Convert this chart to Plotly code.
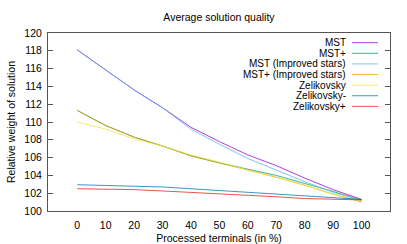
import plotly.graph_objects as go

processed = [0, 10, 20, 30, 40, 50, 60, 70, 80, 90, 100]

mst = [118.1, 115.8, 113.6, 111.6, 109.4, 107.8, 106.3, 105.1, 103.7, 102.4, 101.3]
mst_plus = [111.3, 109.6, 108.3, 107.3, 106.2, 105.4, 104.7, 104.0, 103.1, 102.2, 101.2]
mst_is = [118.1, 115.8, 113.6, 111.6, 109.2, 107.5, 105.9, 104.6, 103.3, 102.1, 101.2]
mst_plus_is = [111.3, 109.6, 108.3, 107.3, 106.2, 105.4, 104.6, 103.8, 102.9, 101.9, 101.0]
zel = [110.0, 109.2, 108.1, 107.3, 106.3, 105.5, 104.6, 103.8, 102.9, 101.9, 101.1]
zel_minus = [102.95, 102.85, 102.8, 102.7, 102.5, 102.3, 102.1, 101.9, 101.7, 101.5, 101.3]
zel_plus = [102.5, 102.45, 102.4, 102.25, 102.1, 101.9, 101.75, 101.6, 101.4, 101.3, 101.25]

names = ["MST", "MST+", "MST (Improved stars)", "MST+ (Improved stars)",
         "Zelikovsky", "Zelikovsky-", "Zelikovsky+"]
series = [mst, mst_plus, mst_is, mst_plus_is, zel, zel_minus, zel_plus]
colors = ["#9400D3", "#009E73", "#56B4E9", "#E69F00", "#F0E442", "#0072B2", "#E51E10"]

y_ticks = list(range(100, 121, 2))

FONT = "Liberation Sans, Arial, sans-serif"

fig = go.Figure()
for name, vals, col in zip(names, series, colors):
    fig.add_trace(go.Scatter(x=processed, y=vals, mode="lines", name=name,
                             line=dict(color=col, width=1), opacity=0.75,
                             showlegend=False, hoverinfo="skip"))

# gnuplot-style legend: right-aligned text, line sample on the right
row0 = 0.9455
step = 0.0596
for i, (name, col) in enumerate(zip(names, colors)):
    yy = row0 - i * step
    fig.add_annotation(x=0.874, y=yy, xref="paper", yref="paper", text=name,
                       showarrow=False, xanchor="right", yanchor="middle",
                       borderpad=0,
                       font=dict(family=FONT, size=10, color="#000"))
    fig.add_shape(type="line", xref="paper", yref="paper", x0=0.889, x1=0.965,
                  y0=yy, y1=yy, line=dict(color=col, width=1), opacity=0.75)

fig.update_layout(
    width=407, height=244,
    margin=dict(l=48, r=17, t=33, b=33, autoexpand=False),
    paper_bgcolor="white", plot_bgcolor="white",
    font=dict(family=FONT, size=10.5, color="#000"),
    title=dict(text="Average solution quality", x=0.538, xanchor="center",
               y=1 - 17 / 244, yanchor="middle",
               font=dict(family=FONT, size=10.5, color="#000")),
    xaxis=dict(range=[-10.3, 110], tickmode="array", tickvals=processed,
               ticktext=[str(v) for v in processed], ticks="", showgrid=False,
               zeroline=False, showline=True, linecolor="#555", linewidth=1,
               mirror=True, ticklabelstandoff=4, automargin=False,
               title=dict(text="Processed terminals (in %)", standoff=6,
                          font=dict(family=FONT, size=10.5))),
    yaxis=dict(range=[100, 120], tickmode="array", tickvals=y_ticks,
               ticktext=[str(v) for v in y_ticks], ticks="inside", ticklen=5,
               tickcolor="#555", showgrid=False, zeroline=False, showline=True,
               linecolor="#555", linewidth=1, mirror="ticks", ticklabelstandoff=3,
               automargin=False,
               title=dict(text="Relative weight of solution", standoff=6,
                          font=dict(family=FONT, size=10.5))),
)

fig.write_html("out.html", config={"displayModeBar": False},
               post_script="document.body.style.margin='0';document.body.style.padding='0';")
